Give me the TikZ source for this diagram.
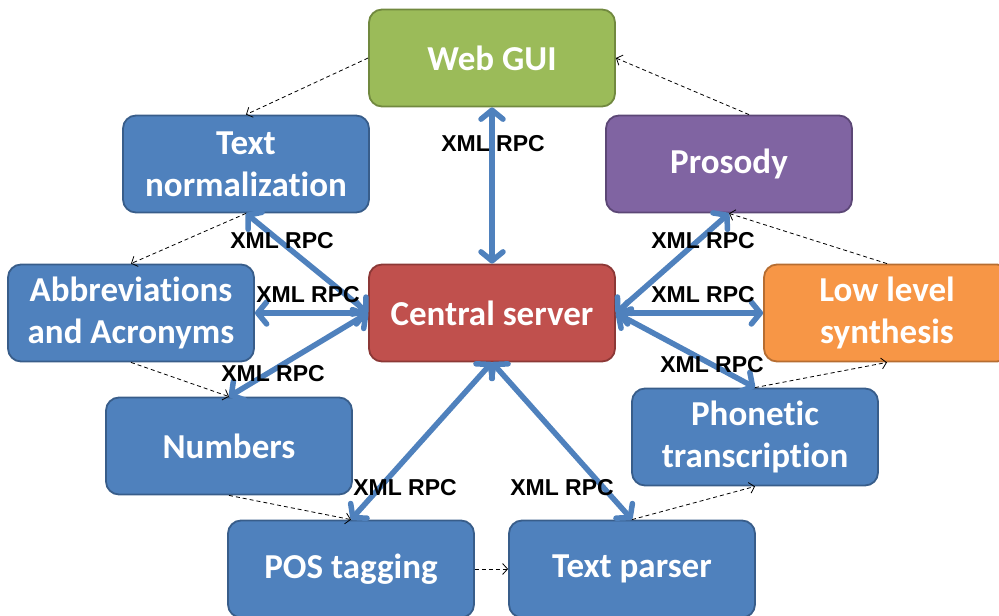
\documentclass[tikz,border=0pt]{standalone}
\usepackage{fontspec}
\setmainfont{Carlito}[Ligatures=CommonOff]
\newfontfamily\lblfont{Liberation Sans}
\usetikzlibrary{arrows.meta,positioning}
\definecolor{bfill}{HTML}{4F81BD}
\definecolor{bdraw}{HTML}{385D8A}
\definecolor{gfill}{HTML}{9BBB59}
\definecolor{gdraw}{HTML}{71893F}
\definecolor{pfill}{HTML}{8064A2}
\definecolor{pdraw}{HTML}{5C4776}
\definecolor{rfill}{HTML}{C0504D}
\definecolor{rdraw}{HTML}{8C3836}
\definecolor{ofill}{HTML}{F79646}
\definecolor{odraw}{HTML}{B66D31}
\definecolor{arrblue}{HTML}{4F81BD}
\tikzset{
  box/.style={rectangle, rounded corners=13pt, minimum width=246pt, minimum height=97pt,
    line width=1.8pt, text=white, align=center, inner sep=0pt,
    font=\fontsize{35}{42}\selectfont\bfseries},
  bluebox/.style={box, fill=bfill, draw=bdraw},
  rpc/.style={line width=5.5pt, draw=arrblue, line cap=round,
    {Straight Barb[length=9pt,width=22pt,round]}-{Straight Barb[length=9pt,width=22pt,round]}},
  lbl/.style={font=\lblfont\fontsize{23}{25}\selectfont\bfseries, text=black, inner sep=0pt},
  flow/.style={line width=0.8pt, dash pattern=on 4pt off 3pt, -{Straight Barb[length=5pt,width=11pt]}}
}
\begin{document}
\begin{tikzpicture}[x=1pt,y=-1pt]
\useasboundingbox (0,0) rectangle (999,616);
\node[box, fill=gfill, draw=gdraw] (web) at (492,58) {Web GUI};
\node[bluebox] (tn) at (246,164) {Text\\normalization};
\node[box, fill=pfill, draw=pdraw] (pros) at (729,164) {Prosody};
\node[bluebox] (abbr) at (131,313) {Abbreviations\\and Acronyms};
\node[box, fill=rfill, draw=rdraw] (cs) at (492,313) {Central server};
\node[box, fill=ofill, draw=odraw] (ll) at (887,313) {Low level\\synthesis};
\node[bluebox] (num) at (229,446) {Numbers};
\node[bluebox] (ph) at (755,437) {Phonetic\\transcription};
\node[bluebox] (pos) at (351,569) {POS tagging};
\node[bluebox] (tp) at (632,569) {Text parser};

\draw[rpc] (web.south) -- (cs.north);
\draw[rpc] (tn.south) -- (cs.west);
\draw[rpc] (abbr.east) -- (cs.west);
\draw[rpc] (num.north) -- (cs.west);
\draw[rpc] (pos.north) -- (cs.south);
\draw[rpc] (tp.north) -- (cs.south);
\draw[rpc] (pros.south) -- (cs.east);
\draw[rpc] (ll.west) -- (cs.east);
\draw[rpc] (ph.north) -- (cs.east);

\node[lbl] (l1) at (493,144) {XML RPC};
\node[lbl] (l2) at (282,241) {XML RPC};
\node[lbl] (l3) at (308,295) {XML RPC};
\node[lbl] (l4) at (273,374) {XML RPC};
\node[lbl] (l5) at (405,488) {XML RPC};
\node[lbl] (l6) at (562,488) {XML RPC};
\node[lbl] (l7) at (703,241) {XML RPC};
\node[lbl] (l8) at (703,295) {XML RPC};
\node[lbl] (l9) at (712,365) {XML RPC};

\draw[flow] (web.west) -- (tn.north);
\draw[flow] ([xshift=20pt]pros.north) -- (web.east);
\draw[flow] (tn.south) -- (abbr.north);
\draw[flow] (abbr.south) -- (num.north);
\draw[flow] (num.south) -- (pos.north);
\draw[flow] (pos.east) -- (tp.west);
\draw[flow] (tp.north) -- (ph.south);
\draw[flow] (ph.north) -- (ll.south);
\draw[flow] (ll.north) -- (pros.south);
\end{tikzpicture}
\end{document}
